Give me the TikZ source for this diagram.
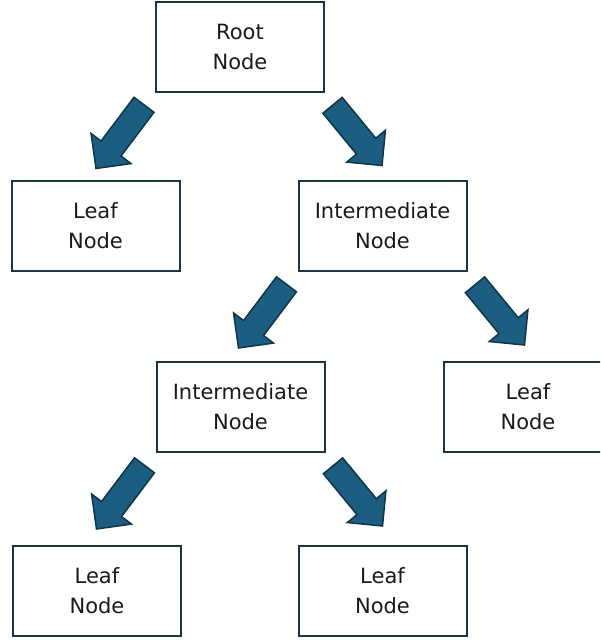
\documentclass[tikz,border=0pt]{standalone}
\usepackage{fontspec}
\usetikzlibrary{calc}
\newfontfamily\boxfont{DejaVu Sans}
\definecolor{boxline}{HTML}{1C3444}
\definecolor{arrfill}{HTML}{1B5E82}
\definecolor{arrline}{HTML}{0E3549}
\definecolor{txt}{HTML}{1A1A1A}

% block arrow from a tail coordinate to a tip coordinate
\newcommand\blockarrow[2]{%
  \coordinate (ba-h) at ($(#2)!25pt!(#1)$);
  \draw[blockarr]
    ($(#1)!12.5pt!90:(#2)$) -- ($(ba-h)!12.5pt!90:(#2)$) --
    ($(ba-h)!25pt!90:(#2)$) -- (#2) --
    ($(ba-h)!25pt!-90:(#2)$) -- ($(ba-h)!12.5pt!-90:(#2)$) --
    ($(#1)!12.5pt!-90:(#2)$) -- cycle;}

\begin{document}
\begin{tikzpicture}[x=1pt,y=-1pt,
  treebox/.style={draw=boxline, line width=2pt, fill=white,
    minimum width=168pt, minimum height=90pt, inner sep=0pt,
    align=center, text=txt, font=\boxfont\fontsize{21}{30}\selectfont},
  blockarr/.style={fill=arrfill, draw=arrline, line width=1.5pt, line join=miter}]
  \useasboundingbox (0,0) rectangle (600,640);
  \clip (0,0) rectangle (600,640);

  % boxes
  \node[treebox] (root)  at (240,46.5)  {Root\\Node};
  \node[treebox] (leafA) at (95.5,225.5) {Leaf\\Node};
  \node[treebox] (interA) at (382.5,226) {Intermediate\\Node};
  \node[treebox] (interB) at (240.5,407) {Intermediate\\Node};
  \node[treebox] (leafB) at (528,407)   {Leaf\\Node};
  \node[treebox] (leafC) at (97,591)    {Leaf\\Node};
  \node[treebox] (leafD) at (382.5,591) {Leaf\\Node};

  % arrow ends, placed relative to the parent box
  \foreach \p/\l/\r in {root/a/b, interA/c/d, interB/e/f} {
    \coordinate (\l-s) at ($(\p.center)+(-96,58.3)$);
    \coordinate (\l-t) at ($(\p.center)+(-144,122)$);
    \coordinate (\r-s) at ($(\p.center)+(92.5,58.8)$);
    \coordinate (\r-t) at ($(\p.center)+(142,119)$);
  }

  % connectors
  \blockarrow{a-s}{a-t}
  \blockarrow{b-s}{b-t}
  \blockarrow{c-s}{c-t}
  \blockarrow{d-s}{d-t}
  \blockarrow{e-s}{e-t}
  \blockarrow{f-s}{f-t}
\end{tikzpicture}
\end{document}
